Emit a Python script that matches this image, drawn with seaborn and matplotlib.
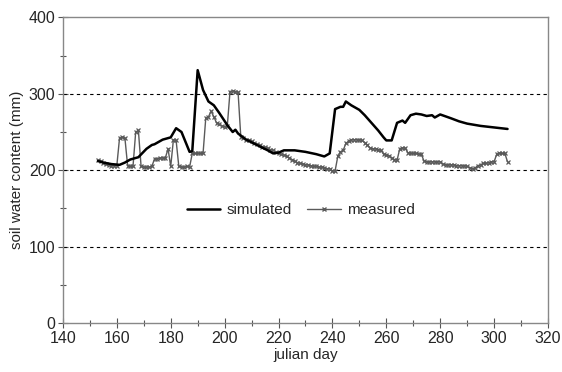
import numpy as np
import pandas as pd
import matplotlib
matplotlib.use("Agg")
import matplotlib.pyplot as plt
import seaborn as sns
from matplotlib.ticker import MultipleLocator
from matplotlib.lines import Line2D

sim_days = [153, 155, 158, 161, 163, 165, 168, 171, 173, 174, 177, 180, 182, 184, 187, 188,
            190, 192, 194, 196, 198, 201, 203, 204, 205, 208, 212, 216, 218, 220, 222, 226,
            230, 234, 237, 239, 241, 243, 244, 245, 247, 250, 252, 255, 257, 259, 260, 262,
            264, 266, 267, 269, 271, 273, 275, 277, 278, 280, 284, 287, 290, 295, 300, 305]
sim_vals = [212, 210, 208, 207, 210, 214, 217, 228, 233, 234, 240, 243, 255, 250, 224, 225,
            331, 305, 290, 285, 275, 259, 250, 253, 248, 240, 233, 226, 222, 223, 226, 226,
            224, 221, 218, 222, 280, 283, 283, 290, 285, 279, 272, 260, 252, 243, 239, 239,
            262, 265, 262, 272, 274, 273, 271, 272, 269, 273, 268, 264, 261, 258, 256, 254]

meas_days = list(range(153, 306))
meas_vals = [213, 212, 210, 208, 207, 206, 206, 206, 242, 243,   # 153-162
             242, 206, 205, 205, 250, 252, 205, 204, 204, 204,   # 163-172
             205, 215, 215, 216, 216, 216, 228, 205, 240, 239,   # 173-182
             205, 204, 204, 205, 204, 222, 222, 222, 222, 222,   # 183-192
             268, 270, 277, 270, 262, 260, 258, 257, 258, 303,   # 193-202
             304, 303, 302, 244, 242, 240, 240, 238, 236, 234,   # 203-212
             233, 231, 230, 229, 227, 226, 224, 222, 221, 220,   # 213-222
             218, 216, 214, 212, 210, 209, 208, 207, 207, 206,   # 223-232
             205, 205, 204, 204, 203, 202, 202, 199, 199, 218,   # 233-242
             224, 226, 235, 238, 240, 240, 240, 240, 239, 236,   # 243-252
             233, 229, 228, 228, 227, 226, 221, 220, 219, 216,   # 253-262
             214, 213, 228, 229, 229, 223, 222, 222, 222, 221,   # 263-272
             221, 212, 211, 211, 211, 211, 211, 211, 208, 207,   # 273-282
             207, 207, 207, 206, 206, 206, 206, 205, 203, 202,   # 283-292
             203, 206, 207, 209, 209, 210, 211, 211, 221, 222,   # 293-302
             222, 222, 211]                                      # 303-305

sns.set_style("white")
plt.rcParams['font.family'] = ['Liberation Sans', 'DejaVu Sans']

fig = plt.figure(figsize=(5.62, 3.72), dpi=100)
ax = fig.add_axes([0.112, 0.132, 0.863, 0.821])

for yv in [100, 200, 300]:
    ax.axhline(yv, color='black', lw=0.8, ls=(0, (3, 3)), zorder=1)

sim_df = pd.DataFrame({"day": sim_days, "val": sim_vals})
meas_df = pd.DataFrame({"day": meas_days, "val": meas_vals})

mcol = '#5a5a5a'
sns.lineplot(data=meas_df, x="day", y="val", ax=ax, color=mcol, lw=1.0,
             marker='x', markersize=3.5, markeredgewidth=0.9, markeredgecolor=mcol,
             markerfacecolor=mcol, estimator=None, zorder=2)
sns.lineplot(data=sim_df, x="day", y="val", ax=ax, color='black', lw=1.8,
             estimator=None, zorder=3)

ax.set_xlim(140, 320)
ax.set_ylim(0, 400)
ax.xaxis.set_major_locator(MultipleLocator(20))
ax.xaxis.set_minor_locator(MultipleLocator(10))
ax.yaxis.set_major_locator(MultipleLocator(100))
ax.yaxis.set_minor_locator(MultipleLocator(50))
ax.tick_params(which='major', direction='inout', length=7, width=0.8, color='#555555',
               labelsize=11.5, pad=2, bottom=True, left=True)
ax.tick_params(which='minor', direction='inout', length=4, width=0.8, color='#555555',
               bottom=True, left=True)
for s in ax.spines.values():
    s.set_color('#888888')
    s.set_linewidth(1.0)

ax.set_xlabel("julian day", fontsize=11, labelpad=2)
ax.set_ylabel("soil water content (mm)", fontsize=11, labelpad=3)

handles = [Line2D([0], [0], color='black', lw=1.8),
           Line2D([0], [0], color=mcol, lw=1.0, marker='x', markersize=3.5,
                  markeredgecolor=mcol)]
ax.legend(handles, ["simulated", "measured"], loc='center', bbox_to_anchor=(0.49, 0.37),
          ncol=2, frameon=False, fontsize=11, handlelength=2.2, columnspacing=1.0,
          handletextpad=0.4)

fig.savefig("out.png", dpi=100)
